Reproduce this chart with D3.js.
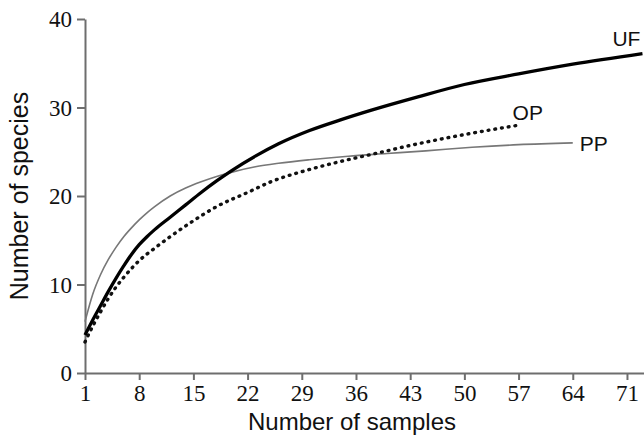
<!DOCTYPE html>
<html>
<head>
<meta charset="utf-8">
<script src="https://cdn.jsdelivr.net/npm/d3@7"></script>
<style>
  html, body { margin: 0; padding: 0; background: #fff; }
  svg { display: block; }
</style>
</head>
<body>
<svg id="chart" width="644" height="440"></svg>
<script>
// ---- data ----
const xTicks = [1, 8, 15, 22, 29, 36, 43, 50, 57, 64, 71];
const yTicks = [0, 10, 20, 30, 40];

const ufSamples = [1, 2, 3, 4, 5, 6, 7, 8, 9, 10, 12, 14, 16, 18, 20, 23, 26, 30, 34, 38, 44, 50, 57, 64, 73];
const ufValues  = [4.3, 6.0, 7.6, 9.2, 10.7, 12.1, 13.4, 14.5, 15.4, 16.2, 17.6, 19.0, 20.4, 21.7, 22.9, 24.5, 25.9, 27.4, 28.6, 29.7, 31.2, 32.6, 33.8, 34.9, 36.1];

const ppSamples = [1, 2, 3, 4, 5, 6, 7, 8, 9, 10, 12, 14, 16, 18, 20, 23, 26, 30, 35, 40, 45, 51, 57, 64];
const ppValues  = [5.8, 8.9, 11.1, 12.8, 14.2, 15.4, 16.4, 17.3, 18.1, 18.8, 20.0, 20.9, 21.6, 22.2, 22.7, 23.3, 23.7, 24.1, 24.5, 24.8, 25.1, 25.5, 25.8, 26.0];

const opSamples = [1, 2, 3, 4, 5, 6, 7, 8, 10, 12, 15, 18, 22, 25, 30, 34, 38, 44, 51, 57];
const opValues  = [3.5, 5.3, 6.9, 8.4, 9.7, 10.8, 11.8, 12.7, 14.1, 15.4, 17.2, 18.8, 20.4, 21.6, 23.0, 23.9, 24.7, 25.9, 27.1, 28.0];

const seriesNames = ["UF", "OP", "PP"];

// ---- layout ----
const svg = d3.select("#chart");
const axisColor = "#6e6e6e";

const x = d3.scaleLinear().domain([1, 73.2]).range([85, 644]);
const y = d3.scaleLinear().domain([0, 40]).range([373, 19]);

const line = d3.line().x(d => x(d[0])).y(d => y(d[1])).curve(d3.curveMonotoneX);
const zip = (a, b) => a.map((v, i) => [v, b[i]]);

// axes
const xAxis = svg.append("g")
  .attr("transform", `translate(0,${y(0)})`)
  .call(d3.axisBottom(x).tickValues(xTicks).tickSizeInner(7).tickSizeOuter(0).tickPadding(4));
const yAxis = svg.append("g")
  .attr("transform", `translate(${x(1)},0)`)
  .call(d3.axisLeft(y).tickValues(yTicks).tickSizeInner(8).tickSizeOuter(0).tickPadding(5));

[xAxis, yAxis].forEach(g => {
  g.select(".domain").attr("stroke", axisColor).attr("stroke-width", 2);
  g.selectAll(".tick line").attr("stroke", axisColor).attr("stroke-width", 2);
  g.selectAll(".tick text")
    .attr("fill", "#111")
    .style("font-family", "'Liberation Serif', 'Times New Roman', serif")
    .style("font-size", "23px");
});
yAxis.selectAll(".tick text").attr("dy", "0.34em");
xAxis.selectAll(".tick text").attr("dy", "0.72em");

// lines
svg.append("path")
  .datum(zip(ppSamples, ppValues))
  .attr("d", line)
  .attr("fill", "none")
  .attr("stroke", "#777")
  .attr("stroke-width", 1.6);

svg.append("path")
  .datum(zip(opSamples, opValues))
  .attr("d", line)
  .attr("fill", "none")
  .attr("stroke", "#111")
  .attr("stroke-width", 3.4)
  .attr("stroke-linecap", "round")
  .attr("stroke-dasharray", "0.8 6");

svg.append("path")
  .datum(zip(ufSamples, ufValues))
  .attr("d", line)
  .attr("fill", "none")
  .attr("stroke", "#000")
  .attr("stroke-width", 3.3);

// series labels
const labelFont = "'Liberation Sans', Arial, sans-serif";
svg.append("text")
  .attr("x", x(ufSamples[ufSamples.length - 1]) - 2)
  .attr("y", y(ufValues[ufValues.length - 1]) - 8)
  .attr("text-anchor", "end")
  .style("font-family", labelFont).style("font-size", "21px").attr("fill", "#111")
  .text(seriesNames[0]);
svg.append("text")
  .attr("x", x(opSamples[opSamples.length - 1]) - 6)
  .attr("y", y(opValues[opValues.length - 1]) - 5)
  .style("font-family", labelFont).style("font-size", "21px").attr("fill", "#111")
  .text(seriesNames[1]);
svg.append("text")
  .attr("x", x(ppSamples[ppSamples.length - 1]) + 7)
  .attr("y", y(ppValues[ppValues.length - 1]) + 8)
  .style("font-family", labelFont).style("font-size", "21px").attr("fill", "#111")
  .text(seriesNames[2]);

// axis titles
svg.append("text")
  .attr("x", 352).attr("y", 430)
  .attr("text-anchor", "middle")
  .style("font-family", labelFont).style("font-size", "24px").attr("fill", "#111")
  .text("Number of samples");
svg.append("text")
  .attr("transform", "translate(28,196) rotate(-90)")
  .attr("text-anchor", "middle")
  .style("font-family", labelFont).style("font-size", "25px").attr("fill", "#111")
  .text("Number of species");
</script>
</body>
</html>
